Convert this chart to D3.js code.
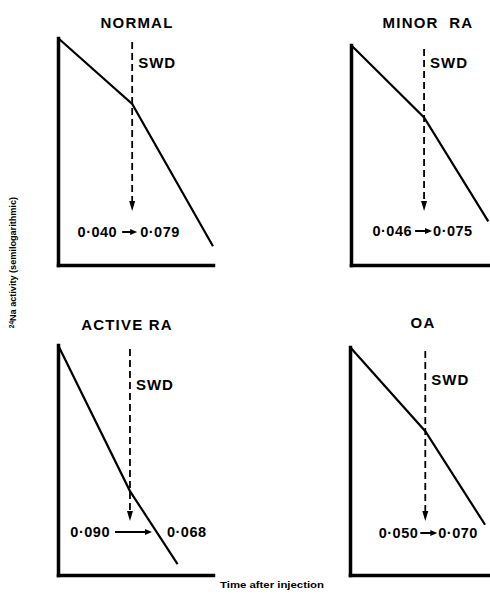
<!DOCTYPE html>
<html>
<head>
<meta charset="utf-8">
<script src="https://cdn.jsdelivr.net/npm/d3@7"></script>
<style>
  body { margin: 0; background: #fff; }
  text { font-family: "Liberation Sans", Arial, sans-serif; font-weight: bold; fill: #000; }
</style>
</head>
<body>
<script>
// Patient groups, one panel each
const groups = ["NORMAL", "MINOR  RA", "ACTIVE RA", "OA"];
// Clearance rate constants (per min) before and after short-wave diathermy
const rateBefore = [0.040, 0.046, 0.090, 0.050];
const rateAfter = [0.079, 0.075, 0.068, 0.070];
// Time (min) at which SWD was applied, and end of each recorded curve
const swdMinute = [33.5, 33, 32.5, 34];
const endMinute = [70, 62, 54, 61];
// Activity at injection (arbitrary units, log axis)
const startActivity = [100, 100, 100, 100];
const timeDomain = [0, 70];
const activityDomain = [1, 100];

// Panel placement
const panels = [
  { x0: 58,  top: 38,  bottom: 265, titleX: 137, titleY: 28,  swdY: 68,  valDy: -28, valL: -15, arr: [-10, 5],  valR: 8 },
  { x0: 351, top: 45,  bottom: 265, titleX: 428, titleY: 28,  swdY: 68,  valDy: -29, valL: -12, arr: [-9, 8],   valR: 9 },
  { x0: 58,  top: 345, bottom: 575, titleX: 127, titleY: 330, swdY: 390, valDy: -38, valL: -20, arr: [-15, 22], valR: 37 },
  { x0: 350, top: 347, bottom: 575, titleX: 423, titleY: 328, swdY: 385, valDy: -37, valL: -7,  arr: [-5, 12],  valR: 13 }
];
const panelWidth = 155;

const svg = d3.select("body").append("svg")
  .attr("width", 490).attr("height", 595);

const fmt = v => d3.format(".3f")(v).replace(".", "·");

groups.forEach((name, i) => {
  const p = panels[i];
  const x = d3.scaleLinear().domain(timeDomain).range([p.x0, p.x0 + panelWidth]);
  const y = d3.scaleLog().domain(activityDomain).range([p.bottom, p.top]);
  const g = svg.append("g");

  // Mono-exponential decay with a change of rate at SWD
  const tb = swdMinute[i], te = endMinute[i];
  const aSwd = startActivity[i] * Math.exp(-rateBefore[i] * tb);
  const aEnd = aSwd * Math.exp(-rateAfter[i] * (te - tb));
  const curve = [[0, startActivity[i]], [tb, aSwd], [te, aEnd]];

  // Axes without ticks
  const xAxis = g.append("g").attr("transform", `translate(0,${p.bottom})`)
    .call(d3.axisBottom(x).tickValues([]).tickSizeOuter(0));
  const yAxis = g.append("g").attr("transform", `translate(${p.x0},0)`)
    .call(d3.axisLeft(y).tickValues([]).tickSizeOuter(0));
  [xAxis, yAxis].forEach(a => a.select(".domain")
    .attr("stroke", "#000").attr("stroke-width", 3.5).attr("stroke-linecap", "square"));

  // Activity curve
  g.append("path")
    .datum(curve)
    .attr("fill", "none").attr("stroke", "#000").attr("stroke-width", 2.2)
    .attr("stroke-linejoin", "miter")
    .attr("d", d3.line().x(d => x(d[0])).y(d => y(d[1])));

  // SWD marker: dashed arrow
  const sx = x(tb);
  const tipY = p.bottom - 54;
  g.append("line")
    .attr("x1", sx).attr("x2", sx).attr("y1", p.top + 4).attr("y2", tipY - 6)
    .attr("stroke", "#000").attr("stroke-width", 1.8).attr("stroke-dasharray", "7,4");
  g.append("path")
    .attr("d", `M${sx},${tipY} L${sx - 3},${tipY - 10} L${sx + 3},${tipY - 10} Z`)
    .attr("fill", "#000");

  g.append("text")
    .attr("x", sx + 6).attr("y", p.swdY)
    .attr("font-size", 15).attr("letter-spacing", 1)
    .text("SWD");

  // Title
  g.append("text")
    .attr("x", p.titleX).attr("y", p.titleY)
    .attr("text-anchor", "middle")
    .attr("font-size", 15).attr("letter-spacing", 1.2)
    .style("white-space", "pre")
    .text(name);

  // Rate constants before -> after
  const vy = p.bottom + p.valDy;
  g.append("text")
    .attr("x", sx + p.valL).attr("y", vy)
    .attr("text-anchor", "end")
    .attr("font-size", 14.5).attr("letter-spacing", 0.5)
    .text(fmt(rateBefore[i]));
  g.append("text")
    .attr("x", sx + p.valR).attr("y", vy)
    .attr("font-size", 14.5).attr("letter-spacing", 0.5)
    .text(fmt(rateAfter[i]));
  const ay = vy - 5, a0 = sx + p.arr[0], a1 = sx + p.arr[1];
  g.append("line")
    .attr("x1", a0).attr("x2", a1 - 5).attr("y1", ay).attr("y2", ay)
    .attr("stroke", "#000").attr("stroke-width", 2);
  g.append("path")
    .attr("d", `M${a1},${ay} L${a1 - 7},${ay - 3} L${a1 - 7},${ay + 3} Z`)
    .attr("fill", "#000");
});

// Shared axis titles
const yLabel = svg.append("text")
  .attr("transform", "translate(16,197) rotate(-90)")
  .attr("text-anchor", "end")
  .attr("font-size", 8.5);
yLabel.append("tspan").attr("font-size", 6.5).attr("dy", -2.5).text("24");
yLabel.append("tspan").attr("dy", 2.5)
  .attr("textLength", 124).attr("lengthAdjust", "spacingAndGlyphs")
  .text("Na activity (semilogarithmic)");

svg.append("text")
  .attr("x", 220).attr("y", 588)
  .attr("font-size", 8.5)
  .attr("textLength", 104).attr("lengthAdjust", "spacingAndGlyphs")
  .text("Time after injection");
</script>
</body>
</html>
